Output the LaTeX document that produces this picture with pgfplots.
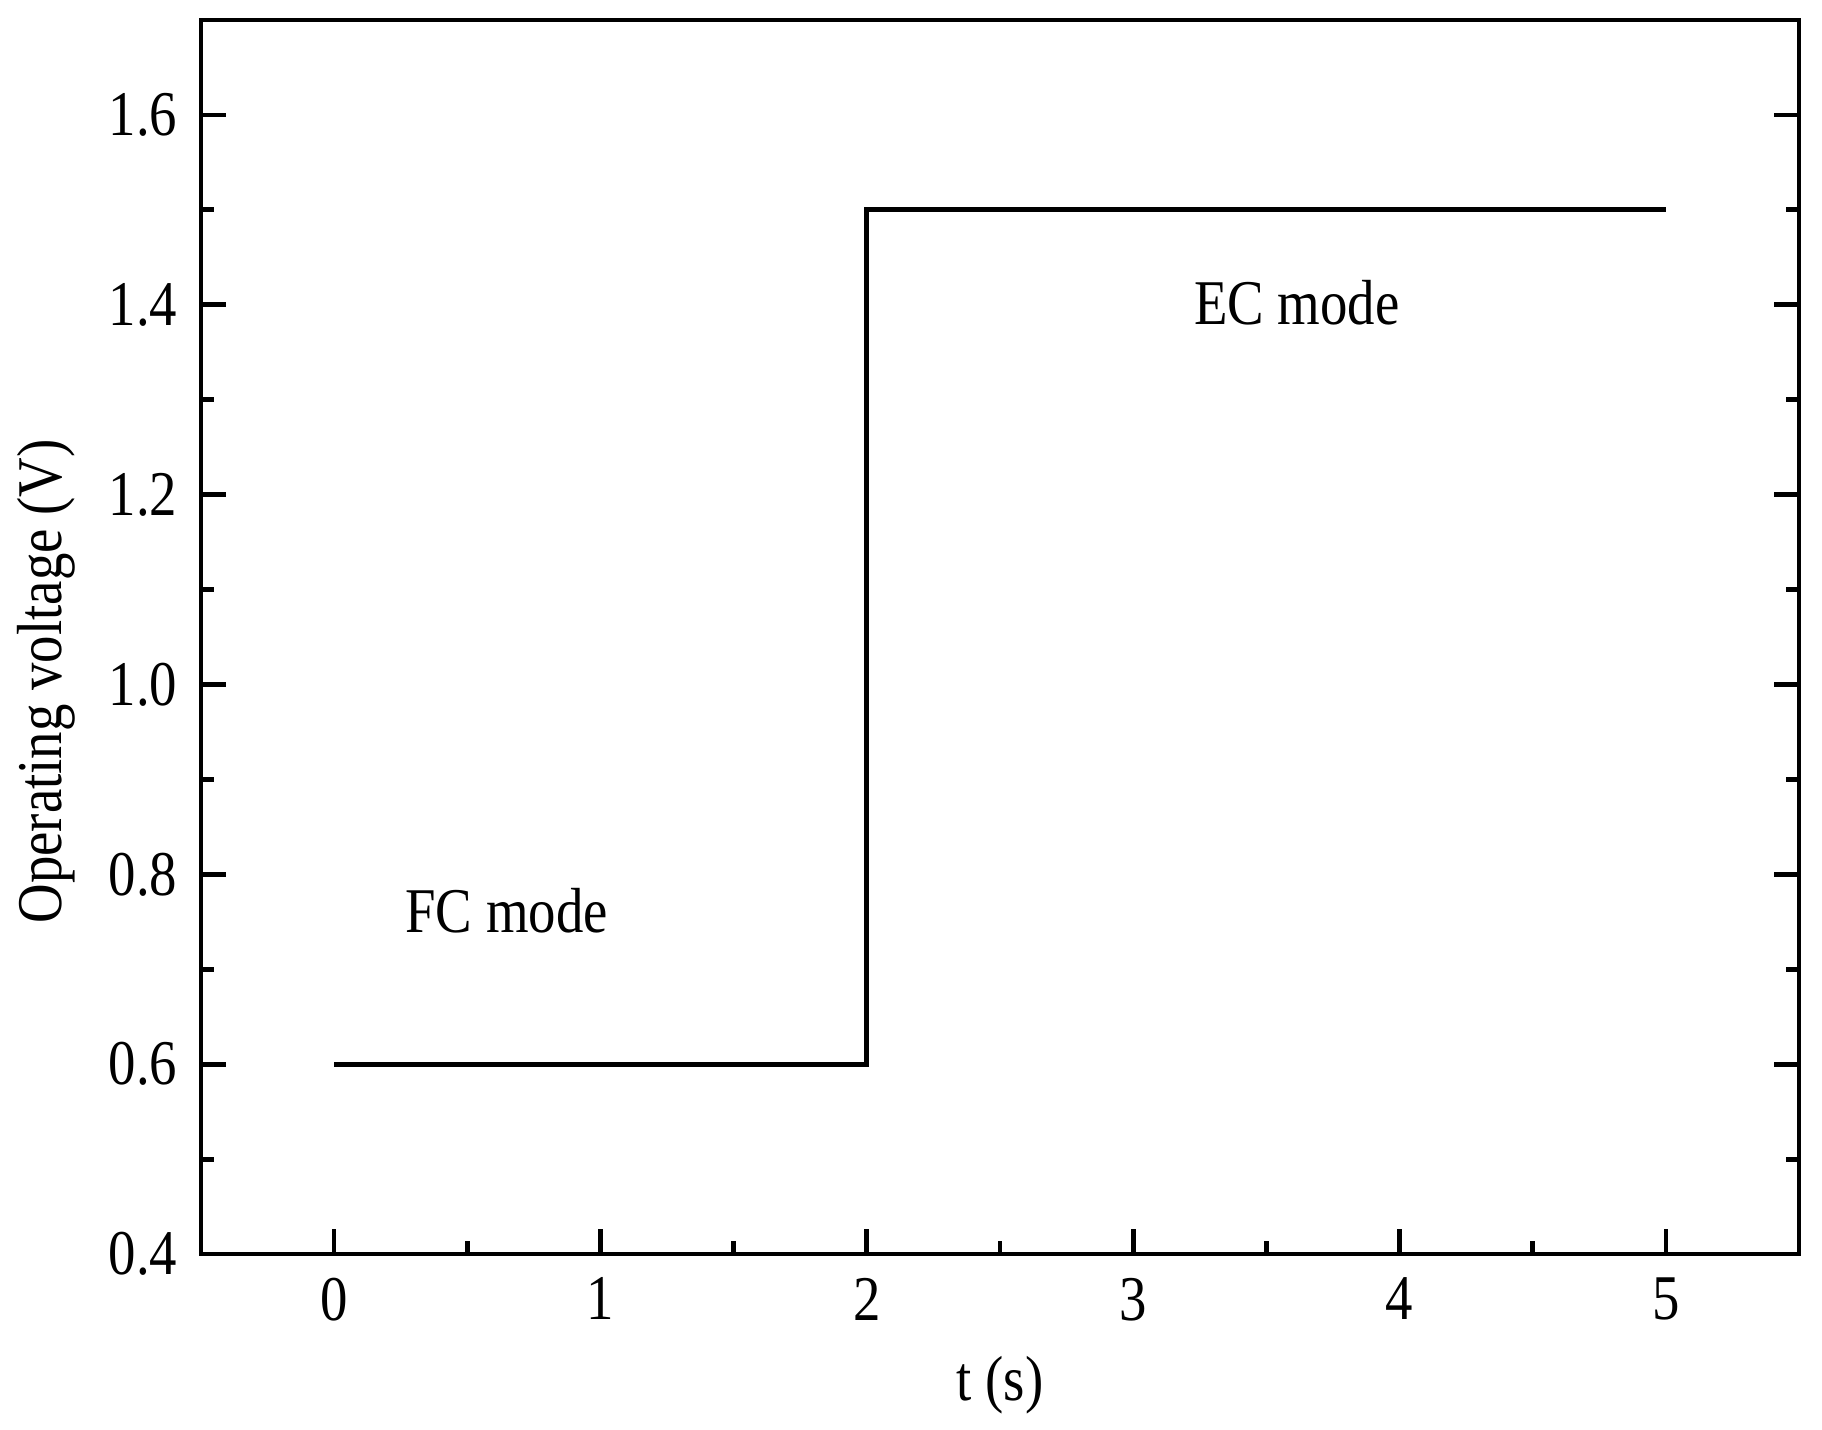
\documentclass[border=0pt]{standalone}
\usepackage{pgfplots}
\pgfplotsset{compat=1.18}
\usepackage{fontspec}
\setmainfont[FakeStretch=0.86]{Liberation Serif}
\begin{document}
\begin{tikzpicture}
\begin{axis}[
    name=ax,
    scale only axis,
    width=439pt, height=339pt,
    xmin=-0.5, xmax=5.5,
    ymin=0.4, ymax=1.7,
    xtick={0,1,2,3,4,5},
    ytick={0.4,0.6,...,1.61},
    minor x tick num=1,
    minor y tick num=1,
    xtick pos=bottom,
    ytick pos=both,
    yticklabel pos=left,
    tick align=inside,
    major tick length=7pt,
    minor tick length=3.5pt,
    axis line style={line width=1.3pt},
    every tick/.style={black, line width=1.3pt},
    /pgf/number format/assume math mode=true,
    yticklabel style={/pgf/number format/fixed, /pgf/number format/fixed zerofill, /pgf/number format/precision=1, xshift=-3pt},
    xticklabel style={yshift=-3pt},
    tick label style={font=\fontsize{17.5}{20}\selectfont},
    label style={font=\fontsize{17.5}{20}\selectfont},
    xlabel={t (s)},
    ylabel={Operating voltage (V)},
    xlabel style={at={(axis description cs:0.5,-0.106)}, anchor=center},
    ylabel style={at={(axis description cs:-0.097,0.464)}, anchor=center},
]
\addplot[black, line width=1.3pt] coordinates {
    (0,0.6) (2,0.6) (2,1.5) (5,1.5)
};
\node[font=\fontsize{17.5}{20}\selectfont] at (axis cs:0.648,0.762) {FC mode};
\node[font=\fontsize{17.5}{20}\selectfont] at (axis cs:3.615,1.402) {EC mode};
\end{axis}
\path (ax.south west) ++(-55.2pt,-48.3pt);
\path (ax.north east) ++(6.3pt,5.5pt);
\end{tikzpicture}
\end{document}
